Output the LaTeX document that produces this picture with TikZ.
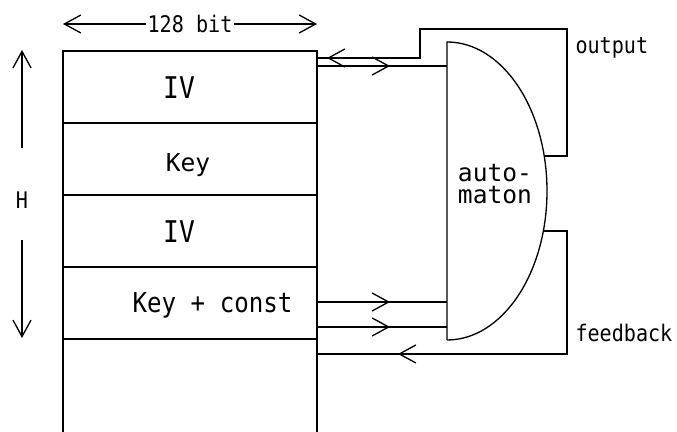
\documentclass[tikz,border=0pt]{standalone}
\usepackage{fontspec}
\setmainfont{DejaVu Sans Mono}
\newfontfamily\narrowmono[FakeStretch=0.88]{DejaVu Sans Mono}
\usetikzlibrary{arrows.meta, positioning, calc, decorations.markings}

\tikzset{barb/.tip={Straight Barb[length=0.33cm, width=0.36cm]}}

\begin{document}
\begin{tikzpicture}[
    line width=0.75pt,
    arr/.style={-barb},
    dbl/.style={barb-barb},
    row/.style={rectangle, draw, minimum width=5.08cm, minimum height=1.44cm,
        inner sep=0pt, outer sep=0pt},
    big/.style={font=\narrowmono\fontsize{17}{20}\selectfont, anchor=base},
    mid/.style={font=\fontsize{14}{16}\selectfont, anchor=base},
    small/.style={font=\narrowmono\fontsize{13}{15}\selectfont},
    tipat/.style={postaction={decorate},
        decoration={markings, mark=at position #1 with {\arrow{barb}}}}
    ]
    \useasboundingbox (0,0) rectangle (13.54,8.64);

    % register rows
    \node[row] (row1) at (3.80,6.90) {};
    \node[row, below=0pt of row1] (row2) {};
    \node[row, below=0pt of row2] (row3) {};
    \node[row, below=0pt of row3] (row4) {};
    \draw (row4.south west) -- ++(0,-1.95);
    \draw (row4.south east) -- ++(0,-1.95);

    \node[big] (iv1)  at (3.58,6.66) {IV};
    \node[mid] (key1) at (3.76,5.20) {Key};
    \node[big] (iv2)  at (3.58,3.78) {IV};
    \node[mid, font=\narrowmono\fontsize{15.6}{18}\selectfont] (key2) at (4.25,2.38) {Key + const};

    % width
    \draw[dbl] ($(row1.north west)+(0,0.54)$) -- ($(row1.north east)+(0,0.54)$)
        node[midway, fill=white, small, inner sep=1pt] (width) {128 bit};

    % height
    \node[small] (hlab) at (0.44,4.64) {H};
    \draw[arr] ([yshift=1.04cm]hlab.center) -- ([yshift=3.0cm]hlab.center);
    \draw[arr] ([yshift=-0.80cm]hlab.center) -- ([yshift=-2.76cm]hlab.center);

    % automaton
    \coordinate (aut) at (8.94,4.82);
    \draw (aut) ++(0,-2.98) -- ++(0,5.96)
        arc[start angle=90, end angle=-90, x radius=2cm, y radius=2.98cm];
    \node[font=\fontsize{14}{13}\selectfont, align=left] (autlab) at (9.90,4.96) {auto-\\maton};

    \coordinate (aout)  at ($(aut)+(13.6:2cm and 2.98cm)$);
    \coordinate (aback) at ($(aut)+(-15.6:2cm and 2.98cm)$);
    \coordinate (rx)    at (11.34,0);
    \coordinate (otl)   at (8.40,8.06);
    \coordinate (ain1)  at (8.94,7.32);
    \coordinate (ain2)  at (8.94,2.60);
    \coordinate (ain3)  at (8.94,2.10);

    % connections
    \draw[tipat=-0.2cm] (aout) -- (aout -| rx) |- (otl) |- ($(row1.north east)+(0,-0.14)$);
    \draw[tipat=1.46cm] (ain1 -| row1.east) -- (ain1);
    \draw[tipat=1.46cm] (ain2 -| row4.east) -- (ain2);
    \draw[tipat=1.46cm] (ain3 -| row4.east) -- (ain3);
    \draw[tipat=-1.62cm] (aback) -- (aback -| rx) |- ($(row4.south east)+(0,-0.30)$);

    \node[small, anchor=west] (outlab) at (11.38,7.68) {output};
    \node[small, anchor=west] (fblab)  at (11.38,1.98) {feedback};
\end{tikzpicture}
\end{document}
